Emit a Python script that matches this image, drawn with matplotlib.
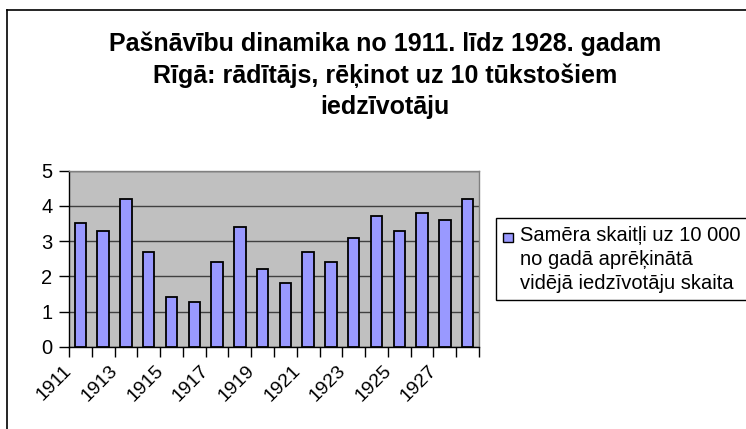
import matplotlib
matplotlib.use("Agg")
import matplotlib.pyplot as plt
from matplotlib.patches import Rectangle
from matplotlib.lines import Line2D
from matplotlib.transforms import ScaledTranslation
import numpy as np

plt.rcParams['font.family'] = ['Liberation Sans', 'DejaVu Sans']

years = list(range(1911, 1929))
values = [3.5, 3.3, 4.2, 2.7, 1.4, 1.28, 2.4, 3.4, 2.2, 1.8,
          2.7, 2.4, 3.1, 3.7, 3.3, 3.8, 3.6, 4.2]
tick_labels = [str(y) for y in years[::2]]
series_label = "Samēra skaitļi uz 10 000\nno gadā aprēķinātā\nvidējā iedzīvotāju skaita"
title = "Pašnāvību dinamika no 1911. līdz 1928. gadam\nRīgā: rādītājs, rēķinot uz 10 tūkstošiem\niedzīvotāju"

W, H = 746, 429
fig = plt.figure(figsize=(W / 100, H / 100), dpi=100)

def fx(px):
    return px / W

def fy(py):
    return 1 - py / H

ax = fig.add_axes([fx(69), fy(346.7), fx(479) - fx(69), fy(170.7) - fy(346.7)])
ax.set_facecolor('#C0C0C0')

x = np.arange(len(years))
ax.bar(x, values, width=0.5, color='#9999FF', edgecolor='black', linewidth=1.3, zorder=3)

ax.set_xlim(-0.5, len(years) - 0.5)
ax.set_ylim(0, 5)
ax.set_yticks([0, 1, 2, 3, 4, 5])
ax.yaxis.grid(True, color='#404040', linewidth=1.0, zorder=1)
ax.set_axisbelow(True)

# boundary ticks
ax.set_xticks(np.arange(-0.5, len(years), 1.0), minor=True)
ax.set_xticks(x[::2])
ax.set_xticklabels(tick_labels, rotation=45, ha='center', va='center',
                   rotation_mode='anchor', fontsize=14)
ax.tick_params(axis='x', which='major', length=0, pad=26.5)
ax.tick_params(axis='x', which='minor', length=7, width=1, color='black', direction='out')
ax.tick_params(axis='y', length=7, width=1, direction='out', labelsize=14.5, pad=5)
shift = ScaledTranslation(-26 / 100, 0, fig.dpi_scale_trans)
for lbl in ax.get_xticklabels():
    lbl.set_transform(lbl.get_transform() + shift)

for s in ['left', 'bottom']:
    ax.spines[s].set_color('black')
    ax.spines[s].set_linewidth(1.0)
for s in ['top', 'right']:
    ax.spines[s].set_color('#808080')
    ax.spines[s].set_linewidth(1.0)

# title
fig.text(fx(385), fy(31), title, ha='center', va='top', fontsize=18, fontweight='bold',
         linespacing=1.4)

# legend box (cropped at right edge)
fig.add_artist(Rectangle((fx(496), fy(300)), fx(760) - fx(496), fy(218) - fy(300),
                         transform=fig.transFigure, facecolor='white', edgecolor='black',
                         linewidth=1.0, clip_on=False))
fig.add_artist(Rectangle((fx(503), fy(242)), fx(513) - fx(503), fy(233) - fy(242),
                         transform=fig.transFigure, facecolor='#9999FF', edgecolor='black',
                         linewidth=1.0))
fig.text(fx(520), fy(226), series_label, ha='left', va='top', fontsize=14.5, linespacing=1.33)

# outer frame (cropped)
fig.add_artist(Line2D([fx(7), fx(7)], [fy(10), 0], transform=fig.transFigure, color='black', linewidth=1.2))
fig.add_artist(Line2D([fx(7), 1], [fy(10), fy(10)], transform=fig.transFigure, color='black', linewidth=1.2))

fig.savefig('out.png', dpi=100)
